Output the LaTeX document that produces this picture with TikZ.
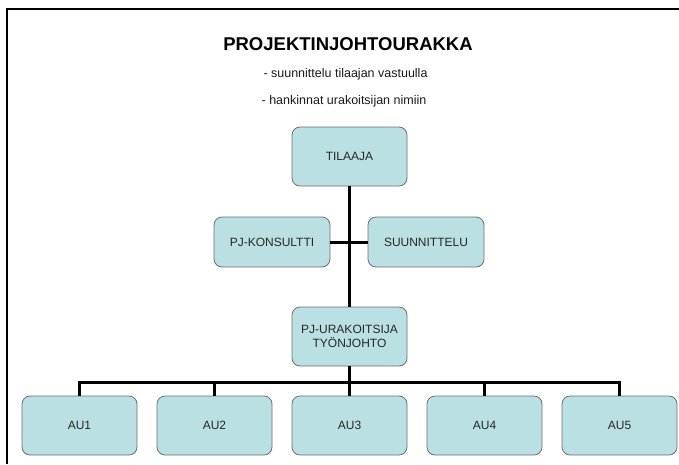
\documentclass[tikz,border=0pt]{standalone}
\usepackage{fontspec}
\setmainfont{Liberation Sans}
\definecolor{boxfill}{RGB}{187,224,227}
\definecolor{boxline}{RGB}{110,110,110}
\begin{document}
\begin{tikzpicture}[x=1pt,y=-1pt,
  box/.style={draw=boxline, line width=0.8pt, fill=boxfill, rounded corners=8pt,
    minimum width=115pt, minimum height=59pt, inner sep=0pt, align=center,
    text=black!85, font=\fontsize{12}{14.5}\selectfont},
  sidebox/.style={box, minimum width=116pt, minimum height=50pt},
  conn/.style={line width=3pt, black},
  frame/.style={line width=2pt, black},
  subtitle/.style={font=\fontsize{12.5}{15}\selectfont, text=black!90}]
\useasboundingbox (0,0) rectangle (679,464);
\coordinate (fbl) at (7,464);
\coordinate (fc) at (7,9);
\coordinate (ftr) at (679,9);
\draw[frame] (fbl) -- (fc) -- (ftr);

\node[font=\bfseries\fontsize{18.5}{22}\selectfont] (title) at (348,44) {PROJEKTINJOHTOURAKKA};
\node[subtitle] (s1) at (345.5,74) {- suunnittelu tilaajan vastuulla};
\node[subtitle] (s2) at (344,101) {- hankinnat urakoitsijan nimiin};

\node[box] (til) at (349.5,156.5) {TILAAJA};
\node[sidebox] (pjk) at (272,242) {PJ-KONSULTTI};
\node[sidebox] (suu) at (426,242) {SUUNNITTELU};
\node[box] (pju) at (349.5,336.5) {PJ-URAKOITSIJA\\TYÖNJOHTO};

\node[box] (au1) at (79.5,425.5) {AU1};
\node[box] (au2) at (214.5,425.5) {AU2};
\node[box] (au3) at (349.5,425.5) {AU3};
\node[box] (au4) at (484.5,425.5) {AU4};
\node[box] (au5) at (619.5,425.5) {AU5};

\coordinate (bus) at (349.5,382);
\draw[conn] (til.south) -- (pju.north);
\draw[conn] (pjk.east) -- (suu.west);
\draw[conn] (pju.south) -- (bus);
\draw[conn] (au1.north) -- (au1.north |- bus) -- (au5.north |- bus) -- (au5.north);
\draw[conn] (au2.north) -- (au2.north |- bus);
\draw[conn] (au3.north) -- (bus);
\draw[conn] (au4.north) -- (au4.north |- bus);
\end{tikzpicture}
\end{document}
